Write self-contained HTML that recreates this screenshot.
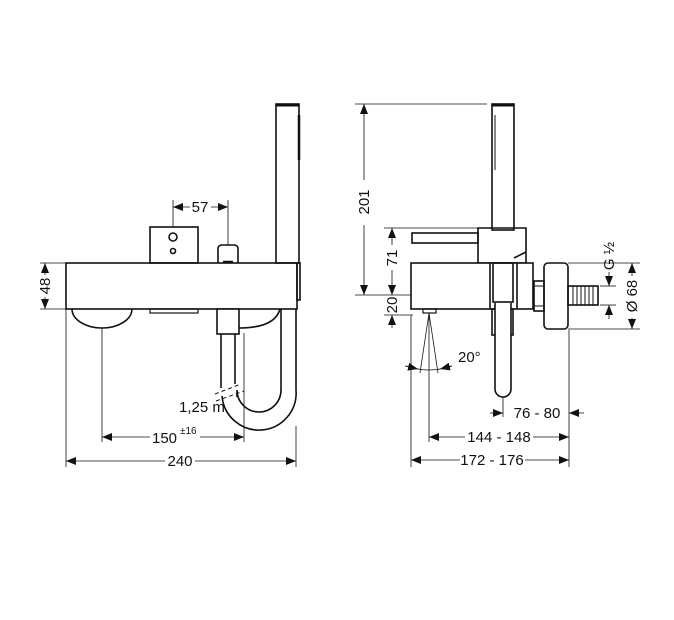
<!DOCTYPE html>
<html><head><meta charset="utf-8"><style>
html,body{margin:0;padding:0;background:#fff;}
svg{display:block;}
text{font-family:"Liberation Sans",sans-serif;font-size:15px;fill:#111;}
</style></head><body>
<svg width="674" height="620" viewBox="0 0 674 620" xmlns="http://www.w3.org/2000/svg">
<defs>
<marker id="a" viewBox="0 0 10 8" refX="10" refY="4" markerWidth="10" markerHeight="8" markerUnits="userSpaceOnUse" orient="auto-start-reverse"><path d="M0,0L10,4L0,8z" fill="#111"/></marker>
</defs>
<g fill="none" stroke="#111" stroke-width="1.6">
<!-- LEFT VIEW -->
<rect x="66" y="263" width="231" height="46" fill="#fff"/>
<rect x="297" y="263" width="3" height="37"/>
<rect x="276" y="104" width="23" height="159"/>
<line x1="276" y1="105" x2="299" y2="105" stroke-width="3"/>
<line x1="299" y1="115" x2="299" y2="160" stroke-width="2.5"/>
<rect x="150" y="227" width="48" height="36"/>
<circle cx="173" cy="237" r="4"/>
<circle cx="173" cy="251" r="2.5"/>
<path d="M218,263V249Q218,245 222,245H234Q238,245 238,249V263"/>
<line x1="223" y1="262" x2="233" y2="262" stroke-width="2.5"/>
<path d="M72,309A30,19 0 0 0 132,309"/>
<rect x="150" y="309" width="48" height="4" stroke-width="1.2"/>
<path d="M239,328Q275,328 280,309"/>
<rect x="217" y="309" width="22" height="25" fill="#fff"/>
<line x1="221" y1="334" x2="221" y2="388"/>
<line x1="235" y1="334" x2="235" y2="384"/>
<path d="M222,396A37,37 0 0 0 296,390V309"/>
<path d="M237,397V390A22,22 0 0 0 281,390V309"/>
<path d="M215,394L241,384M216,401L244,391" stroke-width="1" stroke-dasharray="4,3"/>
<!-- left dims -->
<g stroke-width="0.8">
<line x1="173" y1="200" x2="173" y2="227"/>
<line x1="228" y1="200" x2="228" y2="245"/>
<line x1="40" y1="263" x2="66" y2="263"/>
<line x1="40" y1="309" x2="66" y2="309"/>
<line x1="66" y1="309" x2="66" y2="467"/>
<line x1="102" y1="328" x2="102" y2="442"/>
<line x1="244" y1="333" x2="244" y2="442"/>
<line x1="296" y1="426" x2="296" y2="467"/>
<line x1="173" y1="207" x2="190" y2="207" marker-start="url(#a)"/>
<line x1="211" y1="207" x2="228" y2="207" marker-end="url(#a)"/>
<line x1="45" y1="263" x2="45" y2="275" marker-start="url(#a)"/>
<line x1="45" y1="297" x2="45" y2="309" marker-end="url(#a)"/>
<line x1="102" y1="437" x2="150" y2="437" marker-start="url(#a)"/>
<line x1="200" y1="437" x2="244" y2="437" marker-end="url(#a)"/>
<line x1="66" y1="461" x2="165" y2="461" marker-start="url(#a)"/>
<line x1="195" y1="461" x2="296" y2="461" marker-end="url(#a)"/>
</g>
<!-- RIGHT VIEW -->
<rect x="492" y="104" width="22" height="126"/>
<line x1="492" y1="105" x2="514" y2="105" stroke-width="3"/>
<line x1="495" y1="115" x2="495" y2="170" stroke-width="1"/>
<rect x="412" y="233" width="66" height="10"/>
<path d="M478,228H526V263H478z"/>
<path d="M514,258L526,252"/>
<rect x="411" y="263" width="122" height="46" fill="#fff"/>
<rect x="493" y="263" width="20" height="39"/>
<line x1="490" y1="263" x2="490" y2="309"/>
<line x1="517" y1="263" x2="517" y2="309"/>
<rect x="492" y="309" width="21" height="26"/>
<path d="M495,303V389A8,8 0 0 0 511,389V303" fill="#fff"/>
<rect x="534" y="281" width="10" height="30"/>
<line x1="534" y1="286" x2="544" y2="286" stroke-width="1"/>
<line x1="534" y1="306" x2="544" y2="306" stroke-width="1"/>
<rect x="544" y="263" width="24" height="66" rx="4"/>
<rect x="568" y="286" width="30" height="19"/>
<g stroke-width="1"><line x1="573" y1="286" x2="573" y2="305"/><line x1="577" y1="286" x2="577" y2="305"/><line x1="581" y1="286" x2="581" y2="305"/><line x1="585" y1="286" x2="585" y2="305"/><line x1="589" y1="286" x2="589" y2="305"/><line x1="593" y1="286" x2="593" y2="305"/></g>
<rect x="423" y="309" width="13" height="4" stroke-width="1.2"/>
<g stroke-width="0.8">
<line x1="429" y1="313" x2="420" y2="373"/>
<line x1="429" y1="313" x2="438" y2="373"/>
<path d="M406,366Q429,374 452,366"/>
<line x1="355" y1="104" x2="487" y2="104"/>
<line x1="355" y1="295" x2="411" y2="295"/>
<line x1="384" y1="228" x2="478" y2="228"/>
<line x1="384" y1="315" x2="413" y2="315"/>
<line x1="411" y1="315" x2="411" y2="467"/>
<line x1="429" y1="313" x2="429" y2="442"/>
<line x1="569" y1="330" x2="569" y2="467"/>
<line x1="503" y1="397" x2="503" y2="417"/>
<line x1="568" y1="263" x2="640" y2="263"/>
<line x1="568" y1="329" x2="640" y2="329"/>
<line x1="600" y1="286" x2="616" y2="286"/>
<line x1="600" y1="305" x2="616" y2="305"/>
<line x1="364" y1="104" x2="364" y2="180" marker-start="url(#a)"/>
<line x1="364" y1="225" x2="364" y2="295" marker-end="url(#a)"/>
<line x1="392" y1="228" x2="392" y2="245" marker-start="url(#a)"/>
<line x1="392" y1="270" x2="392" y2="295" marker-end="url(#a)"/>
<line x1="392" y1="328" x2="392" y2="315" marker-end="url(#a)"/>
<line x1="609" y1="272" x2="609" y2="286" marker-end="url(#a)"/>
<line x1="609" y1="319" x2="609" y2="305" marker-end="url(#a)"/>
<line x1="632" y1="276" x2="632" y2="263" marker-end="url(#a)"/>
<line x1="632" y1="318" x2="632" y2="329" marker-end="url(#a)"/>
<line x1="405" y1="366" x2="418" y2="369" marker-end="url(#a)"/>
<line x1="452" y1="366" x2="440" y2="369" marker-end="url(#a)"/>
<line x1="490" y1="413" x2="503" y2="413" marker-end="url(#a)"/>
<line x1="584" y1="413" x2="569" y2="413" marker-end="url(#a)"/>
<line x1="429" y1="437" x2="465" y2="437" marker-start="url(#a)"/>
<line x1="533" y1="437" x2="569" y2="437" marker-end="url(#a)"/>
<line x1="411" y1="460" x2="460" y2="460" marker-start="url(#a)"/>
<line x1="525" y1="460" x2="569" y2="460" marker-end="url(#a)"/>
</g>
</g>
<text x="200" y="212" text-anchor="middle">57</text>
<text transform="translate(50,286) rotate(-90)" text-anchor="middle">48</text>
<text x="179" y="412">1,25 m</text>
<text x="152" y="443">150</text><text x="180" y="434" style="font-size:10px">±16</text>
<text x="180" y="466" text-anchor="middle">240</text>
<text transform="translate(369,202) rotate(-90)" text-anchor="middle">201</text>
<text transform="translate(397,258) rotate(-90)" text-anchor="middle">71</text>
<text transform="translate(397,305) rotate(-90)" text-anchor="middle">20</text>
<text x="458" y="362">20°</text>
<text transform="translate(614,256) rotate(-90)" text-anchor="middle">G ½</text>
<text transform="translate(637,296) rotate(-90)" text-anchor="middle">Ø 68</text>
<text x="537" y="418" text-anchor="middle">76 - 80</text>
<text x="499" y="442" text-anchor="middle">144 - 148</text>
<text x="492" y="465" text-anchor="middle">172 - 176</text>
</svg>
</body></html>
